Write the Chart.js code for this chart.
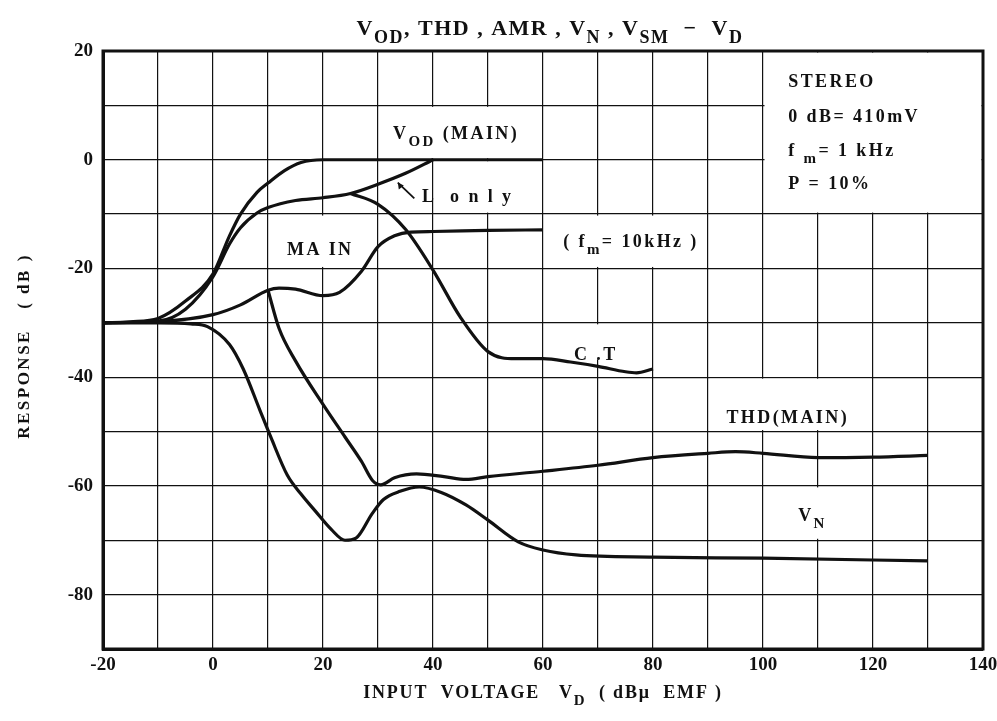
<!DOCTYPE html>
<html>
<head>
<meta charset="utf-8">
<script src="https://cdn.jsdelivr.net/npm/chart.js@4.4.0/dist/chart.umd.min.js"></script>
<style>
  html, body { margin: 0; padding: 0; background: #fff; }
  #wrap { width: 997px; height: 721px; position: relative; }
</style>
</head>
<body>
<div id="wrap"><canvas id="myChart" width="997" height="721"></canvas></div>
<script>
// axis ranges / ticks
const xMin = -20, xMax = 140;
const yMin = -90, yMax = 20;
const xTickLabels = [-20, 0, 20, 40, 60, 80, 100, 120, 140];
const yTickLabels = [20, 0, -20, -40, -60, -80];

// V_OD (MAIN)
const vodX = [-20, -15, -10, -5, 0, 3, 5, 8, 10, 13, 16, 20, 30, 40, 50, 60];
const vodY = [-30, -29.8, -29.2, -26, -21, -14, -10, -6, -4.3, -2, -0.5, 0, 0, 0, 0, 0];

// L only (stereo, left channel)
const lX = [-20, -10, -5, 0, 3, 5, 8, 10, 15, 20, 25, 30, 35, 40];
const lY = [-30, -29.7, -27.5, -21.5, -15.5, -12.5, -9.8, -8.8, -7.5, -7, -6.2, -4.5, -2.5, 0];

// C.T (cross talk), branches off the L curve at 25
const ctX = [25, 30, 35, 40, 45, 50, 55, 60, 65, 70, 75, 77, 80];
const ctY = [-6.2, -8.2, -12.8, -20.3, -29, -35.3, -36.6, -36.6, -37.2, -38, -39, -39.2, -38.5];

// MAIN (f_m = 10kHz)
const mainX = [-20, -10, 0, 5, 10, 12, 15, 20, 23, 27, 30, 33, 36, 40, 50, 60];
const mainY = [-30, -29.8, -28.5, -26.7, -24, -23.6, -23.8, -25, -24.4, -20.5, -16, -14, -13.3, -13.2, -13, -12.9];

// THD (MAIN)
const thdX = [10, 12, 15, 20, 24, 27, 29, 30.5, 33, 37, 42, 46, 50, 60, 70, 80, 90, 95, 100, 110, 120, 130];
const thdY = [-24, -31, -37, -45, -51, -55.5, -59, -59.8, -58.5, -57.8, -58.3, -58.8, -58.3, -57.3, -56.2, -54.8, -54, -53.7, -54, -54.8, -54.7, -54.4];

// V_N
const vnX = [-20, -10, -4, -1, 3, 5.5, 8.5, 10.5, 13.5, 16, 18.5, 21.5, 24, 26, 29, 31, 34, 37.5, 41.5, 46, 50, 55.5, 60, 66, 80, 100, 130];
const vnY = [-30, -30, -30.2, -30.7, -34, -38.5, -46, -51, -58, -61.5, -64.5, -68, -70, -69.6, -65, -62.5, -61, -60.2, -61.2, -63.5, -66.3, -70.3, -71.8, -72.7, -73.1, -73.3, -73.8];

const fontFam = '"Liberation Serif", "DejaVu Serif", serif';
const ink = '#111';

const toPts = (xs, ys) => xs.map((x, i) => ({ x: x, y: ys[i] }));

// white patches behind labels (grid hidden there in the original)
const boxes = [
    [100, 140, -10, 20],
    [30, 60, 0, 10],
    [40, 60, -10, 0],
    [60, 90, -20, -10],
    [10, 30, -20, -10],
    [60, 80, -37, -30],
    [90, 120, -50, -40],
    [100, 120, -70, -60]
];

// text drawn inside the plot: [parts, x, y, align]
// a part is [text] or [text, 1] for subscript
const labels = [
    [[['V'], ['OD', 1], [' (MAIN)']], 44.2, 3.8, 'center'],
    [[['L  o n l y']], 46.3, -7.8, 'center'],
    [[['( f'], ['m', 1], ['= 10kHz )']], 76, -16, 'center'],
    [[['MA IN']], 19.5, -17.5, 'center'],
    [[['C .T']], 69.6, -36.8, 'center'],
    [[['THD(MAIN)']], 104.5, -48.4, 'center'],
    [[['V'], ['N', 1]], 109, -66.4, 'center'],
    [[['STEREO']], 104.6, 13.4, 'left'],
    [[['0 dB= 410mV']], 104.6, 7.0, 'left'],
    [[['f '], ['m', 1], ['= 1 kHz']], 104.6, 0.6, 'left'],
    [[['P = 10%']], 104.6, -5.4, 'left']
];

function drawRich(ctx, parts, x, y, align, size, spacing) {
    let subSize = Math.round(size * 0.82);
    let w = 0;
    parts.forEach(p => {
        ctx.font = 'bold ' + (p[1] ? subSize : size) + 'px ' + fontFam;
        ctx.letterSpacing = spacing + 'px';
        w += ctx.measureText(p[0]).width;
    });
    let cx = align === 'center' ? x - w / 2 : x;
    parts.forEach(p => {
        ctx.font = 'bold ' + (p[1] ? subSize : size) + 'px ' + fontFam;
        ctx.letterSpacing = spacing + 'px';
        ctx.fillText(p[0], cx, p[1] ? y + size * 0.38 : y);
        cx += ctx.measureText(p[0]).width;
    });
}

const paperPlugin = {
    id: 'paper',
    beforeDatasetsDraw(chart) {
        const ctx = chart.ctx, sx = chart.scales.x, sy = chart.scales.y;
        ctx.save();
        ctx.fillStyle = '#fff';
        boxes.forEach(b => {
            let x1 = sx.getPixelForValue(b[0]) + 1.5;
            let x2 = sx.getPixelForValue(b[1]) - 1.5;
            let y1 = sy.getPixelForValue(b[3]) + 1.5;
            let y2 = sy.getPixelForValue(b[2]) - 1.5;
            ctx.fillRect(x1, y1, x2 - x1, y2 - y1);
        });
        // heavy frame all round
        const a = chart.chartArea;
        ctx.strokeStyle = ink;
        ctx.lineWidth = 3;
        ctx.strokeRect(a.left, a.top, a.right - a.left, a.bottom - a.top);
        ctx.restore();
    },
    afterDatasetsDraw(chart) {
        const ctx = chart.ctx, sx = chart.scales.x, sy = chart.scales.y;
        ctx.save();
        ctx.fillStyle = ink;
        ctx.textBaseline = 'alphabetic';
        ctx.textAlign = 'left';
        labels.forEach(l => {
            drawRich(ctx, l[0], sx.getPixelForValue(l[1]), sy.getPixelForValue(l[2]), l[3], 18, 2.4);
        });

        // small pointer for "L only"
        let ax1 = sx.getPixelForValue(36.6), ay1 = sy.getPixelForValue(-7.1);
        let ax2 = sx.getPixelForValue(33.6), ay2 = sy.getPixelForValue(-4.2);
        ctx.strokeStyle = ink;
        ctx.lineWidth = 1.8;
        ctx.beginPath();
        ctx.moveTo(ax1, ay1);
        ctx.lineTo(ax2, ay2);
        ctx.stroke();
        ctx.beginPath();
        ctx.moveTo(ax2, ay2);
        ctx.lineTo(ax2 + 1, ay2 + 7);
        ctx.lineTo(ax2 + 6, ay2 + 3);
        ctx.closePath();
        ctx.fill();

        // title
        drawRich(ctx, [['V'], ['OD', 1], [', THD , AMR , V'], ['N', 1], [' , V'], ['SM', 1], ['  \u2212  V'], ['D', 1]],
            550, 35, 'center', 22, 1.5);

        // x axis title
        drawRich(ctx, [['INPUT  VOLTAGE   V'], ['D', 1], ['  ( dB\u03bc  EMF )']], 543, 698, 'center', 18, 1.8);

        // y axis title
        ctx.translate(23, 346);
        ctx.rotate(-Math.PI / 2);
        drawRich(ctx, [['RESPONSE   ( dB )']], 0, 6, 'center', 17, 2.5);
        ctx.restore();
    }
};

const lineStyle = {
    borderColor: ink,
    borderWidth: 3.2,
    pointRadius: 0,
    fill: false,
    cubicInterpolationMode: 'monotone'
};

const ctx = document.getElementById('myChart').getContext('2d');
const chart = new Chart(ctx, {
    type: 'line',
    data: {
        datasets: [
            Object.assign({ label: 'V_OD (MAIN)', data: toPts(vodX, vodY) }, lineStyle),
            Object.assign({ label: 'L only', data: toPts(lX, lY) }, lineStyle),
            Object.assign({ label: 'C.T', data: toPts(ctX, ctY) }, lineStyle),
            Object.assign({ label: 'MAIN (fm=10kHz)', data: toPts(mainX, mainY) }, lineStyle),
            Object.assign({ label: 'THD (MAIN)', data: toPts(thdX, thdY) }, lineStyle),
            Object.assign({ label: 'V_N', data: toPts(vnX, vnY) }, lineStyle)
        ]
    },
    options: {
        responsive: false,
        animation: false,
        events: [],
        layout: { padding: { left: 0, right: 14, top: 51, bottom: 0 } },
        plugins: {
            legend: { display: false },
            title: { display: false },
            tooltip: { enabled: false }
        },
        scales: {
            x: {
                type: 'linear',
                min: xMin,
                max: xMax,
                afterFit: s => { s.height = 72; s.paddingLeft = 0; s.paddingRight = 0; },
                border: { color: ink, width: 3 },
                grid: { color: ink, lineWidth: 1.2, drawTicks: false },
                ticks: {
                    stepSize: 10,
                    padding: 5,
                    color: ink,
                    font: { family: fontFam, size: 19, weight: 'bold' },
                    callback: v => xTickLabels.includes(v) ? String(v) : ''
                }
            },
            y: {
                type: 'linear',
                min: yMin,
                max: yMax,
                afterFit: s => { s.width = 103; },
                border: { color: ink, width: 3 },
                grid: { color: ink, lineWidth: 1.2, drawTicks: false },
                ticks: {
                    stepSize: 10,
                    padding: 10,
                    color: ink,
                    font: { family: fontFam, size: 19, weight: 'bold' },
                    callback: v => yTickLabels.includes(v) ? String(v) : ''
                }
            }
        }
    },
    plugins: [paperPlugin]
});
</script>
</body>
</html>
